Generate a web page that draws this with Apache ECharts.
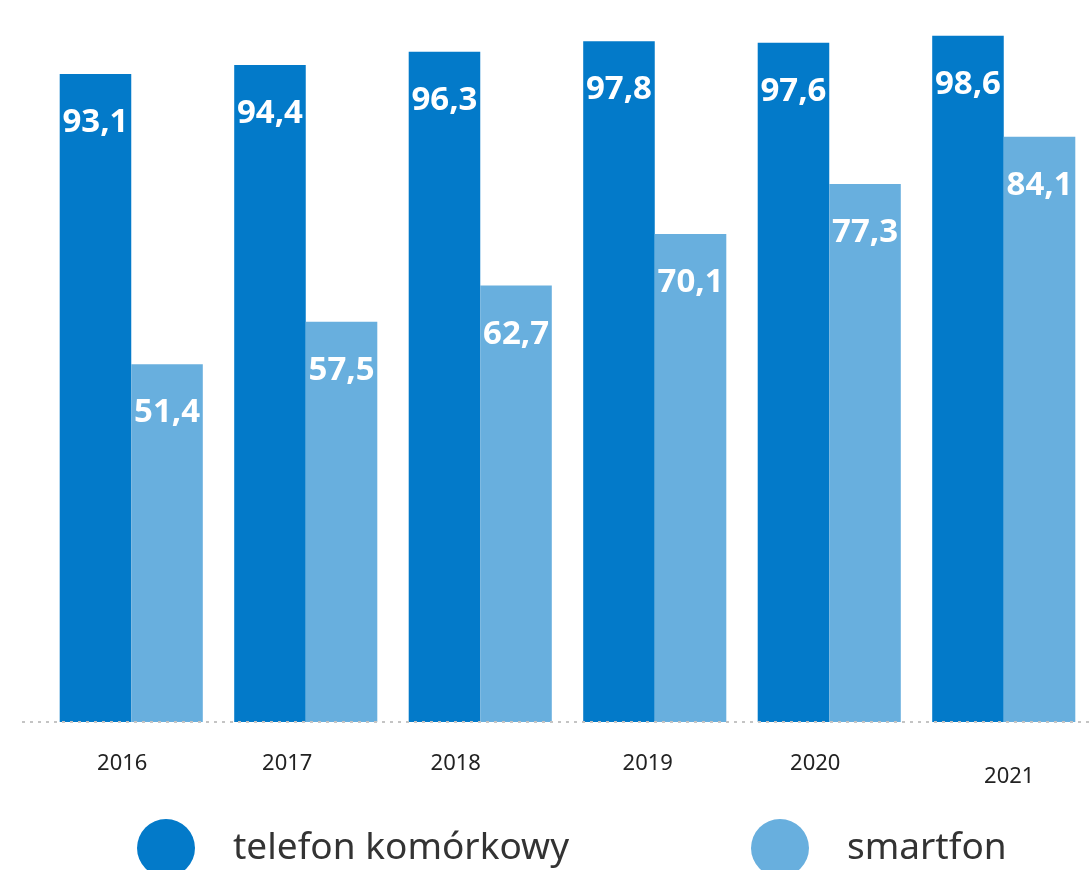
<!DOCTYPE html>
<html>
<head>
<meta charset="utf-8">
<script src="https://cdn.jsdelivr.net/npm/echarts@6/dist/echarts.min.js"></script>
<style>
  html, body { margin: 0; padding: 0; background: #fff; }
  #chart { width: 1091px; height: 870px; }
</style>
</head>
<body>
<div id="chart"></div>
<script>
// dane
const years = ["2016", "2017", "2018", "2019", "2020", "2021"];
const telefon = [93.1, 94.4, 96.3, 97.8, 97.6, 98.6];
const smartfon = [51.4, 57.5, 62.7, 70.1, 77.3, 84.1];
const seriesNames = ["telefon komórkowy", "smartfon"];

// przesunięcia podpisów osi (lewo/dół) jak na oryginale
const labelShift = {
  "2016": [0, 18, 0, 0],
  "2017": [0, 37, 0, 0],
  "2018": [0, 49, 0, 0],
  "2019": [0, 14, 0, 0],
  "2020": [0, 28, 0, 0],
  "2021": [13, 0, 0, 11]
};

const rich = {};
years.forEach(y => {
  rich["y" + y] = {
    fontFamily: "'Noto Sans', sans-serif",
    fontSize: 22,
    color: "#222",
    padding: labelShift[y]
  };
});

const chart = echarts.init(document.getElementById("chart"));

const barLabel = {
  show: true,
  position: "insideTop",
  distance: 32,
  color: "#fff",
  fontFamily: "'Noto Sans', sans-serif",
  fontWeight: "bold",
  fontSize: 33,
  formatter: p => String(p.value).replace(".", ",")
};

chart.setOption({
  animation: false,
  grid: { left: 44, right: 0, top: 26, bottom: 148 },
  xAxis: {
    type: "category",
    data: years,
    axisLine: { show: false },
    axisTick: { show: false },
    axisLabel: {
      margin: 31,
      formatter: v => "{y" + v + "|" + v + "}",
      rich: rich
    }
  },
  yAxis: {
    type: "value",
    min: 0,
    max: 100,
    show: false,
    splitLine: { show: false }
  },
  legend: {
    left: 132,
    top: 814,
    icon: "circle",
    itemWidth: 58,
    itemHeight: 58,
    itemGap: 182,
    textStyle: {
      fontFamily: "'Noto Sans', sans-serif",
      fontSize: 37,
      color: "#333",
      padding: [0, 0, 0, 33]
    },
    data: seriesNames
  },
  graphic: [
    {
      type: "line",
      z: 100,
      shape: { x1: 22, y1: 722, x2: 1091, y2: 722 },
      style: { stroke: "#c4c4c4", lineWidth: 2, lineDash: [3, 5] }
    }
  ],
  series: [
    {
      name: seriesNames[0],
      type: "bar",
      data: telefon,
      barGap: "0%",
      barCategoryGap: "18%",
      itemStyle: { color: "#037AC9" },
      label: barLabel
    },
    {
      name: seriesNames[1],
      type: "bar",
      data: smartfon,
      itemStyle: { color: "#68AFDE" },
      label: barLabel
    }
  ]
});
</script>
</body>
</html>
